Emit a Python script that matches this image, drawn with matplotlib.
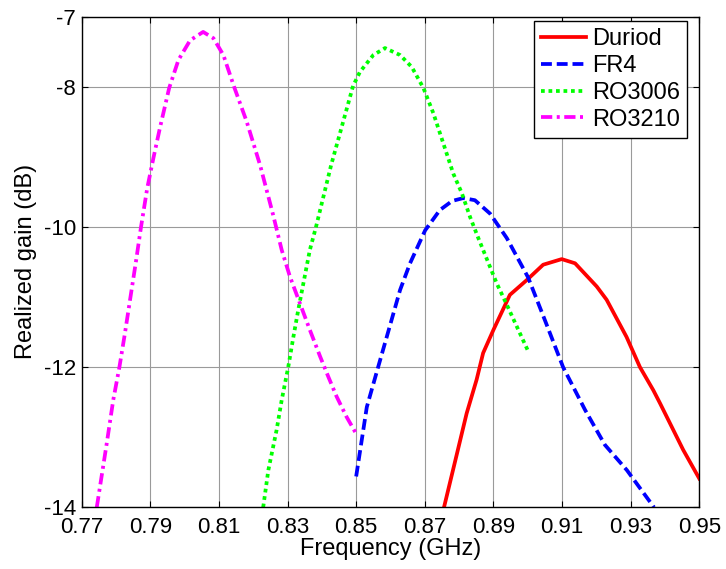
import matplotlib
matplotlib.use("Agg")
import matplotlib.pyplot as plt
from matplotlib import rcParams

rcParams.update({
    "font.family": "sans-serif",
    "font.sans-serif": ["Liberation Sans", "Arial", "DejaVu Sans"],
    "font.size": 16,
    "axes.linewidth": 1.0,
    "xtick.direction": "in",
    "ytick.direction": "in",
})

# Duriod (solid red)
duriod_f = [0.8756, 0.8794, 0.8822, 0.8851, 0.8870, 0.8900, 0.8948, 0.8997,
            0.9045, 0.9099, 0.9138, 0.9201, 0.9230, 0.9288, 0.9327, 0.9366,
            0.9386, 0.9453, 0.9500]
duriod_g = [-14.0, -13.23, -12.66, -12.18, -11.80, -11.47, -10.97, -10.76,
            -10.54, -10.46, -10.52, -10.85, -11.04, -11.57, -12.00, -12.33,
            -12.52, -13.18, -13.59]

# FR4 (dashed blue)
fr4_f = [0.8500, 0.8531, 0.8564, 0.8599, 0.8628, 0.8657, 0.8701, 0.8744,
         0.8780, 0.8812, 0.8846, 0.8890, 0.8939, 0.9001, 0.9050, 0.9103,
         0.9167, 0.9225, 0.9289, 0.9368]
fr4_g = [-13.56, -12.57, -12.00, -11.40, -10.90, -10.52, -10.05, -9.76,
         -9.63, -9.59, -9.62, -9.81, -10.16, -10.72, -11.33, -12.00,
         -12.61, -13.11, -13.47, -14.0]

# RO3006 (dotted green)
ro3006_f = [0.8229, 0.8244, 0.8268, 0.8283, 0.8302, 0.8317, 0.8331, 0.8346,
            0.8365, 0.8383, 0.8427, 0.8491, 0.8511, 0.8550, 0.8584, 0.8628,
            0.8662, 0.8696, 0.8725, 0.8754, 0.8783, 0.8808, 0.8832, 0.8856,
            0.8890, 0.8910, 0.8939, 0.8968, 0.9000]
ro3006_g = [-14.0, -13.47, -12.90, -12.47, -12.00, -11.57, -11.19, -10.81,
            -10.33, -10.00, -9.12, -7.99, -7.79, -7.55, -7.45, -7.55,
            -7.72, -8.02, -8.38, -8.81, -9.24, -9.52, -9.86, -10.16,
            -10.57, -10.81, -11.11, -11.42, -11.76]

# RO3210 (dash-dot magenta)
ro3210_f = [0.7744, 0.7773, 0.7792, 0.7810, 0.7826, 0.7841, 0.7858, 0.7873,
            0.7891, 0.7909, 0.7928, 0.7955, 0.7982, 0.8016, 0.8054, 0.8084,
            0.8113, 0.8144, 0.8181, 0.8220, 0.8258, 0.8283, 0.8307, 0.8336,
            0.8365, 0.8395, 0.8419, 0.8443, 0.8472, 0.8500]
ro3210_g = [-14.0, -13.09, -12.47, -12.00, -11.52, -11.04, -10.50, -10.00,
            -9.45, -9.02, -8.59, -8.02, -7.62, -7.34, -7.22, -7.31,
            -7.55, -8.00, -8.50, -9.12, -9.83, -10.33, -10.71, -11.09,
            -11.47, -11.85, -12.14, -12.42, -12.71, -12.95]

x_ticks = [0.77, 0.79, 0.81, 0.83, 0.85, 0.87, 0.89, 0.91, 0.93, 0.95]
y_ticks = [-14, -12, -10, -8, -7]

fig = plt.figure(figsize=(7.26, 5.69), dpi=100)
ax = fig.add_axes([0.1125, 0.1084, 0.8507, 0.8626])

lw = 2.7
ax.plot(duriod_f, duriod_g, color="#ff0000", lw=lw, label="Duriod")
ax.plot(fr4_f, fr4_g, color="#0000ff", lw=lw, linestyle=(0, (2.9, 1.3)),
        label="FR4")
ax.plot(ro3006_f, ro3006_g, color="#00ff00", lw=lw, linestyle=(0, (1, 1)),
        label="RO3006")
ax.plot(ro3210_f, ro3210_g, color="#ff00ff", lw=lw,
        linestyle=(0, (3.0, 1.2, 0.8, 1.2)), label="RO3210")

ax.set_xlim(0.77, 0.95)
ax.set_ylim(-14, -7)
ax.set_xticks(x_ticks)
ax.set_xticklabels([f"{t:.2f}" for t in x_ticks])
ax.set_yticks(y_ticks)
ax.set_yticklabels([str(t) for t in y_ticks])
ax.tick_params(top=True, right=True, length=4, width=0.8)
ax.tick_params(axis="x", pad=7)
ax.tick_params(axis="y", pad=4)
ax.grid(True, color="#9a9a9a", linewidth=0.8)
ax.set_axisbelow(True)

ax.set_xlabel("Frequency (GHz)", fontsize=17, labelpad=0)
ax.set_ylabel("Realized gain (dB)", fontsize=17, labelpad=5)

leg = ax.legend(loc="upper right", bbox_to_anchor=(0.98, 0.99),
                borderaxespad=0, fontsize=17, frameon=True, fancybox=False,
                handlelength=1.9, handletextpad=0.25, labelspacing=0.2,
                borderpad=0.3)
leg.get_frame().set_edgecolor("black")
leg.get_frame().set_linewidth(1.0)
leg.get_frame().set_alpha(1)

fig.savefig("out.png", dpi=100)
